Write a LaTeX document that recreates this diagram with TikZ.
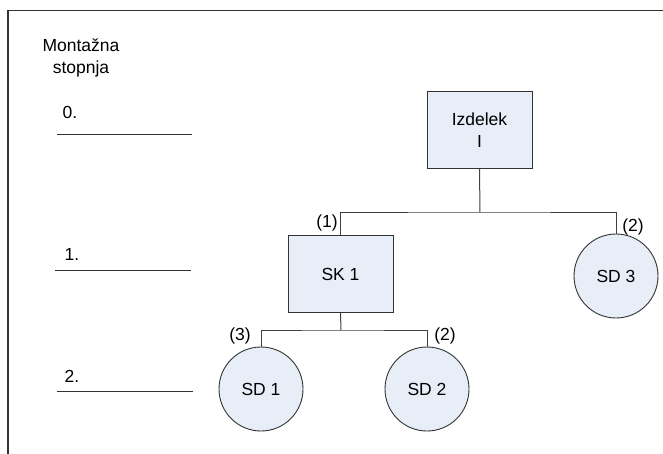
\documentclass[tikz,border=0pt]{standalone}
\usepackage{fontspec}
\setmainfont{Liberation Sans}
\definecolor{boxfill}{RGB}{232,238,248}
\begin{document}
\begin{tikzpicture}[x=1pt,y=-1pt,
  every node/.style={font=\fontsize{17.5}{22}\selectfont, inner sep=0pt},
  conn/.style={draw=black!75, line width=1pt},
  rbox/.style={draw=black!80, fill=boxfill, line width=1pt, minimum width=105pt, minimum height=77pt, align=center},
  cnode/.style={circle, draw=black!80, fill=boxfill, line width=0.9pt, minimum size=84pt},
  lvl/.style={draw=black!80, line width=1pt}]
\useasboundingbox (0,0) rectangle (663,454);
% frame
\draw[line width=1.6pt, black!80] (8,454) -- (8,10.5) -- (663,10.5);
% level labels
\node[align=center] (hdr) at (81,58) {Montažna\\stopnja};
\node (l0) at (70,112) {0.};
\node (l1) at (72,254) {1.};
\node (l2) at (72,376) {2.};
\coordinate (a0) at (57,135); \coordinate (b0) at (192,135);
\coordinate (a1) at (55,270); \coordinate (b1) at (191,270);
\coordinate (a2) at (57,391); \coordinate (b2) at (193,391);
\draw[lvl] (a0) -- (b0);
\draw[lvl] (a1) -- (b1);
\draw[lvl] (a2) -- (b2);
% nodes
\node[rbox] (izd) at (479.5,130) {Izdelek\\I};
\node[rbox] (sk1) at (340.5,274) {SK 1};
\node[cnode] (sd3) at (616,276) {SD 3};
\node[cnode] (sd1) at (261,389) {SD 1};
\node[cnode] (sd2) at (427,389) {SD 2};
% connectors
\coordinate (j1) at (480,213);
\draw[conn] (izd.south) -- (j1);
\draw[conn] (sk1.north) |- (j1) -| (sd3.north);
\coordinate (j2) at (341,330);
\draw[conn] (sk1.south) -- (j2);
\draw[conn] (sd1.north) |- (j2) -| (sd2.north);
% quantities
\node (q1) at (327,223) {(1)};
\node (q2) at (633,227) {(2)};
\node (q3) at (240,336) {(3)};
\node (q4) at (445,336) {(2)};
\end{tikzpicture}
\end{document}
